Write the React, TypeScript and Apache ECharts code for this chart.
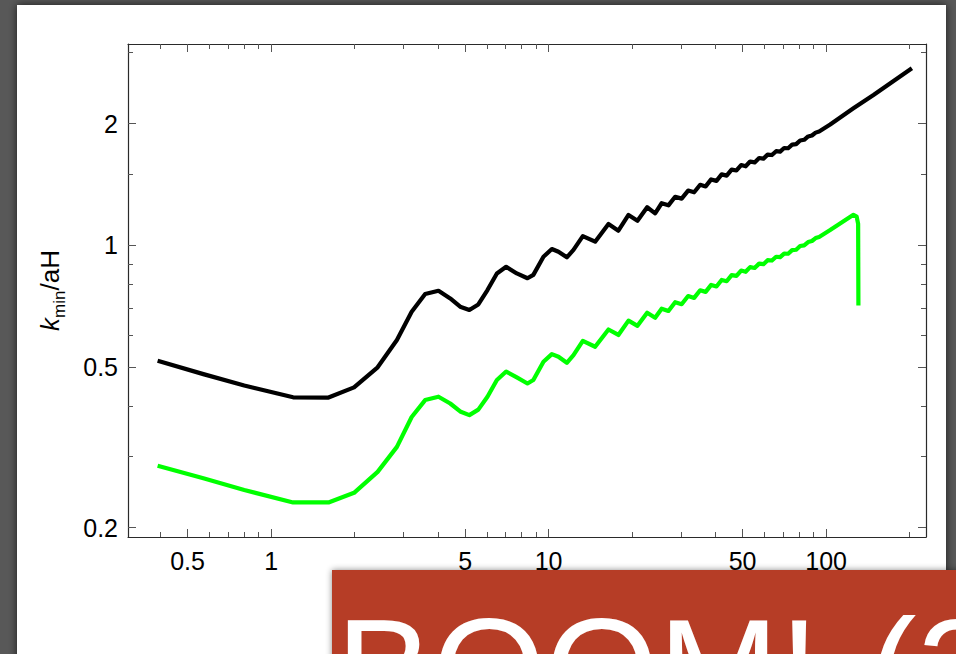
import React, { useEffect, useRef } from "react";
import * as echarts from "echarts";

// k values (x) and k_min/aH values (y)
const kBlack = [
  0.39, 0.57, 0.8, 1.2, 1.61, 1.99, 2.42, 2.84, 3.21, 3.59, 4.01, 4.42, 4.8, 5.18, 5.58, 6.02, 6.51, 7.03,
  7.68, 8.39, 8.81, 9.58, 10.27, 10.85, 11.63, 12.29, 13.28, 14.71, 16.43, 17.84, 19.4, 20.9, 22.65, 24.2,
  25.54, 27.02, 28.57, 30.15, 31.82, 33.45, 35.16, 36.8, 38.52, 40.25, 42.02, 43.8, 45.65, 47.51, 49.4,
  51.28, 53.22, 55.25, 57.35, 59.43, 61.54, 63.77, 66.04, 68.27, 70.57, 72.96, 75.42, 77.96, 80.6, 83.32,
  86.13, 88.88, 91.65, 94.35, 103.4, 125.4, 148.1, 172.9, 203.7,
];
const yBlack = [
  0.518, 0.48, 0.45, 0.4205, 0.42, 0.445, 0.499, 0.583, 0.685, 0.758, 0.772, 0.739, 0.705, 0.692, 0.714,
  0.775, 0.852, 0.885, 0.852, 0.829, 0.845, 0.937, 0.979, 0.964, 0.934, 0.974, 1.054, 1.021, 1.129, 1.087,
  1.189, 1.15, 1.242, 1.2, 1.271, 1.256, 1.319, 1.305, 1.366, 1.353, 1.412, 1.399, 1.456, 1.444, 1.498,
  1.488, 1.54, 1.532, 1.58, 1.569, 1.612, 1.604, 1.645, 1.639, 1.677, 1.673, 1.71, 1.706, 1.741, 1.739,
  1.775, 1.78, 1.818, 1.825, 1.86, 1.87, 1.901, 1.914, 1.991, 2.183, 2.355, 2.536, 2.742,
];
const kGreen = [
  0.39, 0.57, 0.8, 1.2, 1.61, 1.99, 2.42, 2.84, 3.21, 3.59, 4.01, 4.42, 4.8, 5.18, 5.58, 6.02, 6.51, 7.03,
  7.68, 8.39, 8.81, 9.58, 10.27, 10.85, 11.63, 12.29, 13.28, 14.71, 16.43, 17.84, 19.4, 20.9, 22.65, 24.2,
  25.54, 27.02, 28.57, 30.15, 31.82, 33.45, 35.16, 36.8, 38.52, 40.25, 42.02, 43.8, 45.65, 47.51, 49.4,
  51.28, 53.22, 55.25, 57.35, 59.43, 61.54, 63.77, 66.04, 68.27, 70.57, 72.96, 75.42, 77.96, 80.6, 83.32,
  86.13, 88.88, 91.65, 94.35, 103.4, 125.4, 128.8, 130.4, 130.7,
];
const yGreen = [
  0.2848, 0.265, 0.248, 0.231, 0.231, 0.244, 0.275, 0.317, 0.376, 0.414, 0.422, 0.406, 0.388, 0.38, 0.392,
  0.422, 0.464, 0.487, 0.471, 0.455, 0.464, 0.515, 0.538, 0.53, 0.512, 0.535, 0.58, 0.561, 0.619, 0.6,
  0.651, 0.632, 0.681, 0.662, 0.697, 0.688, 0.723, 0.715, 0.749, 0.741, 0.774, 0.767, 0.798, 0.791, 0.821,
  0.815, 0.844, 0.84, 0.866, 0.86, 0.883, 0.879, 0.901, 0.898, 0.919, 0.917, 0.937, 0.935, 0.954, 0.953,
  0.973, 0.975, 0.996, 1.0, 1.019, 1.025, 1.042, 1.049, 1.091, 1.19, 1.178, 1.13, 0.71,
];

// axis ranges and ticks (log axes)
const xRange = [0.305, 229];
const yRange = [0.1897, 3.15];
const xMajorTicks = [0.5, 1, 5, 10, 50, 100];
const xMinorTicks = [0.4, 0.6, 0.7, 0.8, 0.9, 2, 3, 4, 6, 7, 8, 9, 20, 30, 40, 60, 70, 80, 90, 200];
const yMajorTicks = [0.2, 0.5, 1, 2];
const yMinorTicks = [0.3, 0.4, 0.6, 0.7, 0.8, 0.9, 1.5, 3];

const FONT = "Liberation Sans, Arial, sans-serif";
const lg = (v: number) => Math.log10(v);
const fmt = (v: number) => String(Math.round(Math.pow(10, v) * 1000) / 1000);

function makeAxis(
  position: string,
  range: number[],
  ticks: number[],
  len: number,
  showLine: boolean,
  showLabel: boolean,
  margin: number
): any {
  const vals = ticks.map(lg);
  return {
    type: "value",
    position,
    min: lg(range[0]),
    max: lg(range[1]),
    splitLine: { show: false },
    axisLine: { show: showLine, onZero: false, lineStyle: { color: "#2a2a2a", width: 1.2 } },
    axisTick: {
      show: true,
      inside: true,
      length: len,
      customValues: vals,
      lineStyle: { color: "#555", width: 1 },
    },
    axisLabel: {
      show: showLabel,
      customValues: vals,
      formatter: fmt,
      fontFamily: FONT,
      fontSize: 25,
      color: "#000",
      margin,
    },
  };
}

export default function App() {
  const ref = useRef<HTMLDivElement>(null);
  useEffect(() => {
    if (!ref.current) return;
    const chart = echarts.init(ref.current, undefined, { renderer: "svg" });
    const xAxes = [
      makeAxis("bottom", xRange, xMajorTicks, 8, true, true, 11),
      makeAxis("bottom", xRange, xMinorTicks, 5, false, false, 11),
      makeAxis("top", xRange, xMajorTicks, 8, true, false, 11),
      makeAxis("top", xRange, xMinorTicks, 5, false, false, 11),
    ];
    const yAxes = [
      makeAxis("left", yRange, yMajorTicks, 8, true, true, 10),
      makeAxis("left", yRange, yMinorTicks, 5, false, false, 10),
      makeAxis("right", yRange, yMajorTicks, 8, true, false, 10),
      makeAxis("right", yRange, yMinorTicks, 5, false, false, 10),
    ];
    yAxes[0].name = "{k|k}{s|min}{n|/aH}";
    yAxes[0].nameLocation = "middle";
    yAxes[0].nameRotate = 90;
    yAxes[0].nameGap = 60;
    yAxes[0].nameMoveOverlap = false;
    yAxes[0].nameTextStyle = {
      fontFamily: FONT,
      fontSize: 25,
      color: "#000",
      rich: {
        k: { fontFamily: FONT, fontSize: 26, fontStyle: "italic", color: "#000", lineHeight: 36, verticalAlign: "middle" },
        s: { fontFamily: FONT, fontSize: 17, color: "#000", lineHeight: 36, verticalAlign: "bottom" },
        n: { fontFamily: FONT, fontSize: 26, color: "#000", lineHeight: 36, verticalAlign: "middle" },
      },
    };

    const option: any = {
      animation: false,
      backgroundColor: "#585858",
      grid: { left: 128, top: 44, width: 798, height: 493, containLabel: false, outerBoundsMode: "none" },
      xAxis: xAxes,
      yAxis: yAxes,
      series: [
        {
          type: "line",
          xAxisIndex: 0,
          yAxisIndex: 0,
          data: kBlack.map((k, i) => [lg(k), lg(yBlack[i])]),
          symbol: "none",
          lineStyle: { color: "#000", width: 4.2, join: "round" },
          itemStyle: { color: "#000" },
          z: 3,
        },
        {
          type: "line",
          xAxisIndex: 0,
          yAxisIndex: 0,
          data: kGreen.map((k, i) => [lg(k), lg(yGreen[i])]),
          symbol: "none",
          lineStyle: { color: "#00ff00", width: 4.2, join: "round" },
          itemStyle: { color: "#00ff00" },
          z: 3,
        },
      ],
      graphic: [
        {
          type: "rect",
          z: -10,
          silent: true,
          shape: { x: 17, y: 5, width: 929, height: 700 },
          style: { fill: "#ffffff", shadowBlur: 8, shadowColor: "rgba(0,0,0,0.7)" },
        },
        {
          type: "rect",
          z: 100,
          silent: true,
          shape: { x: 332, y: 570, width: 700, height: 200 },
          style: { fill: "#b63d26", shadowBlur: 6, shadowColor: "rgba(0,0,0,0.45)" },
        },
        {
          type: "text",
          z: 101,
          silent: true,
          x: 336,
          y: 670,
          style: {
            text: "{a|BOOM!}{b|  }{a|(2)}",
            fontFamily: FONT,
            fontSize: 145,
            fill: "#ffffff",
            align: "left",
            verticalAlign: "middle",
            rich: {
              a: { fontFamily: FONT, fontSize: 145, fill: "#ffffff", verticalAlign: "bottom" },
              b: { fontFamily: FONT, fontSize: 88, fill: "#ffffff", verticalAlign: "bottom" },
            },
            shadowBlur: 6,
            shadowOffsetY: 3,
            shadowColor: "rgba(70,10,0,0.75)",
          },
        },
      ],
    };
    chart.setOption(option);
    return () => chart.dispose();
  }, []);
  return (
    <div
      ref={ref}
      style={{ position: "fixed", left: 0, top: 0, width: 956, height: 654 }}
    />
  );
}
